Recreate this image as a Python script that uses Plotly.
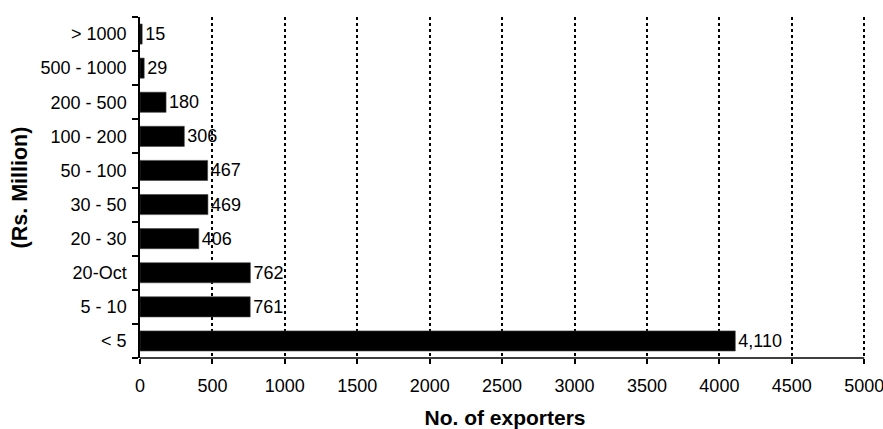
import plotly.graph_objects as go

categories = ["< 5", "5 - 10", "20-Oct", "20 - 30", "30 - 50", "50 - 100", "100 - 200", "200 - 500", "500 - 1000", "> 1000"]
exporters = [4110, 761, 762, 406, 469, 467, 306, 180, 29, 15]
x_ticks = [0, 500, 1000, 1500, 2000, 2500, 3000, 3500, 4000, 4500, 5000]

FONT = "Liberation Sans, Arial, sans-serif"

fig = go.Figure(go.Bar(
    y=categories, x=exporters, orientation="h",
    marker=dict(color="black", line=dict(color="#444", width=0.6)),
    width=0.59,
    text=exporters, texttemplate="%{x:,}", textposition="outside",
    textfont=dict(family=FONT, size=18, color="black"),
    cliponaxis=False,
))

fig.update_layout(
    width=883, height=429,
    margin=dict(l=140, r=13, t=17, b=71, autoexpand=False),
    plot_bgcolor="white", paper_bgcolor="white",
    font=dict(family=FONT, size=18, color="black"),
    showlegend=False,
    xaxis=dict(
        range=[0, 5040], tickvals=x_ticks, ticktext=[str(v) for v in x_ticks],
        showline=False,
        ticks="outside", ticklen=5, tickcolor="black", tickwidth=1.5,
        showgrid=True, gridcolor="black", gridwidth=1.5, griddash="3px,3px",
        zeroline=False, automargin=False, ticklabeloverflow="allow",
        ticklabelstandoff=6,
        title=dict(text="<b>No. of exporters</b>", font=dict(size=21), standoff=17),
    ),
    yaxis=dict(
        type="category", categoryorder="array", categoryarray=categories,
        showline=True, linecolor="black", linewidth=1.5,
        ticks="outside", ticklen=6, tickcolor="black", tickwidth=1.5,
        tickson="boundaries", showgrid=False, automargin=False,
        ticklabelstandoff=8,
        title=dict(text="<b>(Rs. Million)</b>", font=dict(size=21.5), standoff=7),
    ),
    shapes=[dict(type="line", xref="x", yref="paper", x0=0, x1=5000, y0=0, y1=0,
                 line=dict(color="black", width=1.5))],
)

fig.write_html("out.html")
